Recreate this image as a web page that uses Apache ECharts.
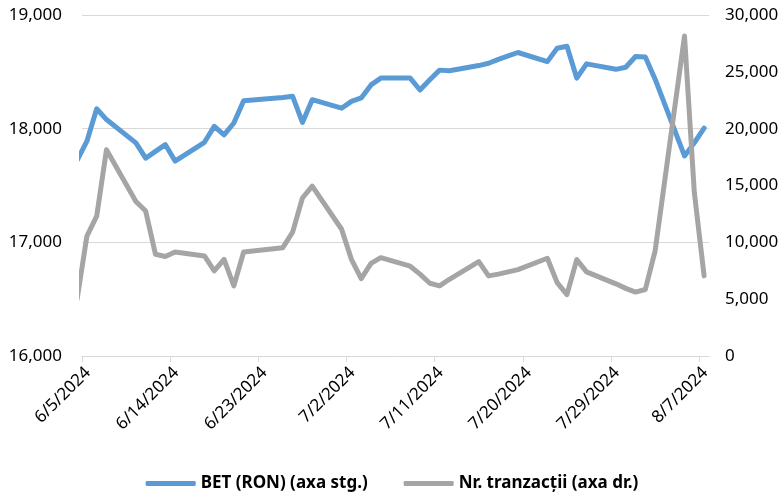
<!DOCTYPE html>
<html>
<head>
<meta charset="utf-8">
<script src="https://cdn.jsdelivr.net/npm/echarts@6/dist/echarts.min.js"></script>
<style>
  html, body { margin: 0; padding: 0; background: #fff; }
  #chart { width: 784px; height: 499px; }
</style>
</head>
<body>
<div id="chart"></div>
<script>
// Trading days (6/4 lies just before the axis start and is clipped, as in the reference)
const dates = [
  '2024-06-04','2024-06-05','2024-06-06','2024-06-07','2024-06-10','2024-06-11','2024-06-12','2024-06-13','2024-06-14',
  '2024-06-17','2024-06-18','2024-06-19','2024-06-20','2024-06-21','2024-06-25','2024-06-26','2024-06-27','2024-06-28',
  '2024-07-01','2024-07-02','2024-07-03','2024-07-04','2024-07-05','2024-07-08','2024-07-09','2024-07-10','2024-07-11','2024-07-12',
  '2024-07-15','2024-07-16','2024-07-17','2024-07-18','2024-07-19','2024-07-22','2024-07-23','2024-07-24','2024-07-25','2024-07-26',
  '2024-07-29','2024-07-30','2024-07-31','2024-08-01','2024-08-02','2024-08-05','2024-08-06','2024-08-07'
];
const betValues = [
  17720, 17890, 18175, 18080, 17875, 17740, 17800, 17860, 17715,
  17880, 18020, 17945, 18050, 18245, 18275, 18285, 18055, 18255,
  18180, 18240, 18270, 18385, 18445, 18445, 18340, 18430, 18515, 18510,
  18555, 18575, 18610, 18640, 18670, 18590, 18708, 18725, 18445, 18570,
  18522, 18540, 18635, 18630, 18435, 17760, 17875, 18005
];
const tradeValues = [
  5000, 10550, 12300, 18150, 13600, 12750, 8950, 8750, 9150,
  8800, 7480, 8500, 6170, 9150, 9530, 10900, 13900, 14950,
  11150, 8500, 6800, 8150, 8650, 7900, 7200, 6400, 6170, 6750,
  8300, 7050, 7200, 7400, 7600, 8600, 6450, 5400, 8480, 7400,
  6350, 5950, 5620, 5850, 9250, 28150, 14400, 7050
];
const tickLabels = ['6/5/2024','6/14/2024','6/23/2024','7/2/2024','7/11/2024','7/20/2024','7/29/2024','8/7/2024'];
const seriesNames = ['BET (RON) (axa stg.)', 'Nr. tranzacții (axa dr.)'];

const startDay = Date.UTC(2024, 5, 5);
const dayIndex = s => { const p = s.split('-').map(Number); return (Date.UTC(p[0], p[1]-1, p[2]) - startDay) / 864e5; };
const labelDay = s => { const p = s.split('/').map(Number); return (Date.UTC(p[2], p[0]-1, p[1]) - startDay) / 864e5; };
const tickValues = tickLabels.map(labelDay);
const labelMap = {}; tickLabels.forEach((l, i) => labelMap[tickValues[i]] = l);

const betData = dates.map((d, i) => [dayIndex(d) + 0.5, betValues[i]]);
const tradeData = dates.map((d, i) => [dayIndex(d) + 0.5, tradeValues[i]]);

const FONT = 'Noto Sans';
const chart = echarts.init(document.getElementById('chart'), null, { renderer: 'canvas' });
chart.setOption({
  animation: false,
  backgroundColor: '#ffffff',
  grid: { left: 82, right: 75, top: 15, bottom: 143, containLabel: false },
  legend: {
    bottom: 2,
    left: 'center',
    icon: 'roundRect',
    itemWidth: 50,
    itemHeight: 5,
    itemGap: 36,
    textStyle: { fontFamily: FONT, fontSize: 17, fontWeight: 'bold', color: '#000' },
    data: seriesNames
  },
  xAxis: {
    type: 'value',
    min: 0,
    max: 64,
    splitLine: { show: false },
    axisLine: { show: true, lineStyle: { color: '#d9d9d9', width: 1 } },
    axisTick: { show: true, length: 6, lineStyle: { color: '#d9d9d9' }, customValues: tickValues },
    axisLabel: {
      customValues: tickValues,
      rotate: 45,
      margin: 8,
      verticalAlign: 'top',
      fontFamily: FONT,
      fontSize: 17,
      color: '#000',
      formatter: v => labelMap[v] || ''
    }
  },
  yAxis: [
    {
      type: 'value',
      min: 16000,
      max: 19000,
      interval: 1000,
      axisLine: { show: false },
      axisTick: { show: false },
      splitLine: { show: true, lineStyle: { color: '#d9d9d9', width: 1 } },
      axisLabel: {
        margin: 20,
        fontFamily: FONT,
        fontSize: 17,
        color: '#000',
        formatter: v => v.toLocaleString('en-US')
      }
    },
    {
      type: 'value',
      min: 0,
      max: 30000,
      interval: 5000,
      axisLine: { show: false },
      axisTick: { show: false },
      splitLine: { show: false },
      axisLabel: {
        margin: 16,
        fontFamily: FONT,
        fontSize: 17,
        color: '#000',
        formatter: v => v.toLocaleString('en-US')
      }
    }
  ],
  series: [
    {
      name: seriesNames[0],
      type: 'line',
      yAxisIndex: 0,
      data: betData,
      showSymbol: false,
      symbol: 'none',
      clip: true,
      color: '#5B9BD5',
      lineStyle: { color: '#5B9BD5', width: 5, cap: 'round', join: 'round' },
      z: 3
    },
    {
      name: seriesNames[1],
      type: 'line',
      yAxisIndex: 1,
      data: tradeData,
      showSymbol: false,
      symbol: 'none',
      clip: true,
      color: '#A5A5A5',
      lineStyle: { color: '#A5A5A5', width: 5, cap: 'round', join: 'round' },
      z: 4
    }
  ]
});
</script>
</body>
</html>
